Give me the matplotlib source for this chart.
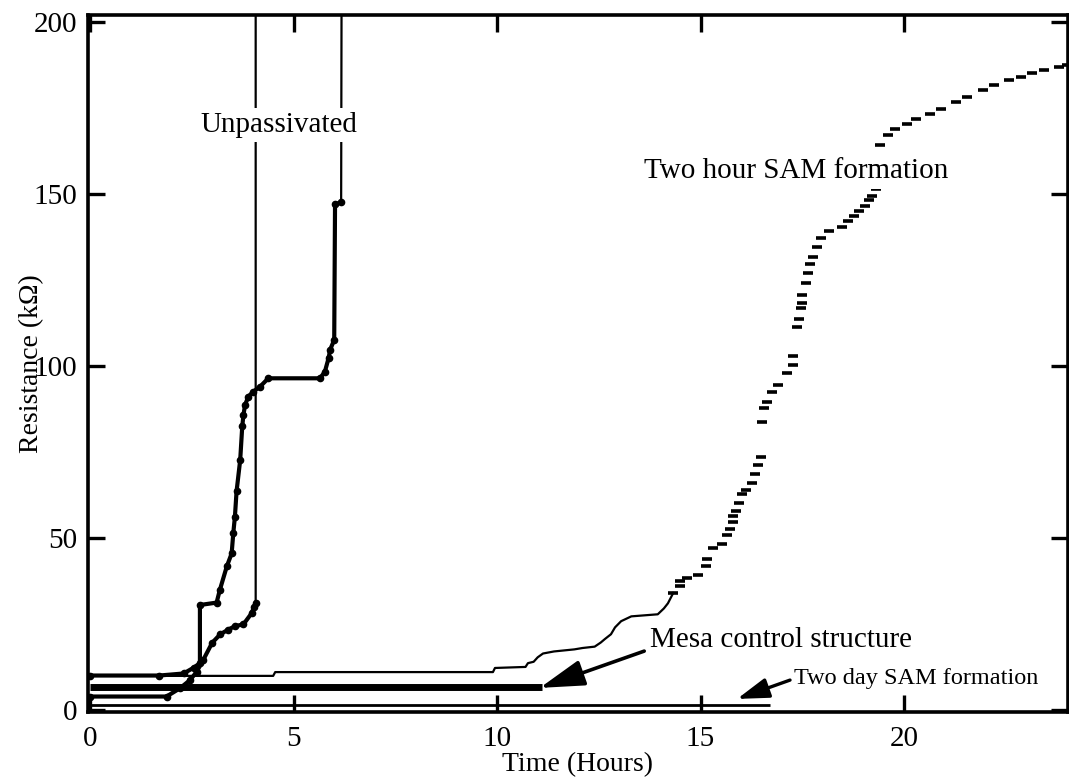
import matplotlib
matplotlib.use('Agg')
import matplotlib.pyplot as plt

# ---------------- data ----------------
x_ticks = [0, 5, 10, 15, 20]
y_ticks = [0, 50, 100, 150, 200]

# Two hour SAM formation: continuous stepped part
two_hour_line_t = [0, 4.5, 4.55, 9.9, 9.95, 10.7, 10.76, 10.9, 11.0, 11.13, 11.4,
                   11.9, 12.1, 12.4, 12.55, 12.65, 12.8, 12.9, 13.05, 13.3, 13.95,
                   14.1, 14.2, 14.33]
two_hour_line_r = [9.9, 9.9, 11.0, 11.0, 12.2, 12.5, 13.6, 14.0, 15.3, 16.4, 17.0,
                   17.6, 18.0, 18.4, 19.6, 20.6, 22.0, 24.0, 25.8, 27.2, 27.8,
                   29.5, 31.0, 34.0]
# Two hour SAM formation: sparse dashed part
two_hour_dash_t = [14.33, 14.5, 14.5, 14.66, 14.95, 15.13, 15.15, 15.3, 15.52, 15.65,
                   15.72, 15.79, 15.81, 15.87, 15.95, 16.01, 16.13, 16.26, 16.34, 16.41,
                   16.48, 16.5, 16.56, 16.63, 16.75, 16.9, 17.12, 17.27, 17.27, 17.36,
                   17.42, 17.47, 17.49, 17.5, 17.59, 17.64, 17.68, 17.76, 17.87, 17.96,
                   18.15, 18.48, 18.62, 18.76, 18.9, 19.04, 19.13, 19.22, 19.32, 19.41,
                   19.6, 19.79, 20.07, 20.3, 20.63, 20.91, 21.28, 21.56, 21.93, 22.21,
                   22.59, 22.87, 23.15, 23.43, 23.8, 24.0]
two_hour_dash_r = [34.0, 36.1, 37.5, 38.4, 39.2, 41.7, 43.9, 47.1, 48.3, 50.9,
                   52.6, 54.7, 56.4, 57.9, 60.2, 62.8, 64.0, 66.1, 68.6, 71.2,
                   73.6, 83.7, 87.8, 89.6, 92.4, 94.5, 98.0, 100.3, 102.9, 111.3,
                   113.7, 116.9, 118.4, 120.7, 124.0, 126.9, 129.6, 131.6, 134.5, 137.2,
                   139.3, 140.5, 142.2, 143.7, 145.1, 146.6, 148.1, 149.5, 151.3, 164.1,
                   167.0, 168.9, 170.4, 171.8, 173.3, 174.8, 176.7, 178.2, 180.1, 181.6,
                   183.0, 184.0, 185.0, 185.9, 186.9, 187.5]

# Unpassivated device 1
unpass1_t = [0, 1.88, 2.21, 2.46, 2.62, 2.78, 3.0, 3.2, 3.39, 3.55, 3.77, 3.97, 4.03, 4.07, 4.07]
unpass1_r = [3.9, 3.9, 6.3, 8.7, 11.1, 14.5, 19.5, 22.0, 23.3, 24.3, 24.9, 28.1, 30.0, 31.0, 205]

# Unpassivated device 2
unpass2_t = [0, 1.7, 2.3, 2.55, 2.7, 2.7, 3.11, 3.19, 3.36, 3.48, 3.52, 3.56, 3.6, 3.69,
             3.74, 3.77, 3.81, 3.89, 4.01, 4.18, 4.38, 5.65, 5.77, 5.86, 5.9, 6.0,
             6.02, 6.17, 6.18]
unpass2_r = [10.0, 10.0, 10.6, 12.3, 13.6, 30.5, 31.2, 34.9, 41.7, 45.5, 51.4, 56.2, 63.5, 72.7,
             82.4, 85.8, 88.7, 91.1, 92.5, 94.0, 96.4, 96.4, 98.3, 102.2, 104.7, 107.6,
             147.0, 147.5, 205]

# Mesa control structure
mesa_t = [0, 11.1]
mesa_r = [6.7, 6.7]

# Two day SAM formation
two_day_t = [0, 16.7]
two_day_r = [1.5, 1.5]

# ---------------- figure ----------------
W, H = 1069, 779
fig = plt.figure(figsize=(W / 100, H / 100), dpi=100)
ax = fig.add_axes([88 / W, (H - 712) / H, (1068 - 88) / W, (712 - 15) / H])

serif = ['Liberation Serif', 'DejaVu Serif']
k = 'black'

ax.plot(two_day_t, two_day_r, color=k, lw=2.0, solid_capstyle='butt')
ax.plot(mesa_t, mesa_r, color=k, lw=5.0, solid_capstyle='butt')
ax.plot(two_hour_line_t, two_hour_line_r, color=k, lw=1.6)
ax.plot(two_hour_dash_t, two_hour_dash_r, ls='none', marker='_', ms=7, mew=2.6, color=k)

for t, r in ((unpass1_t, unpass1_r), (unpass2_t, unpass2_r)):
    ax.plot(t, r, color=k, lw=1.6)
    ax.plot(t[:-1], r[:-1], color=k, lw=3.0, marker='o', ms=4.5)

ax.set_xlim(-0.05, 24.03)
ax.set_ylim(-0.6, 202.0)
ax.set_xticks(x_ticks)
ax.set_yticks(y_ticks)
ax.tick_params(direction='in', length=12, width=2.4, top=True, right=True,
               labelsize=21)
ax.tick_params(axis='x', pad=10)
ax.tick_params(axis='y', pad=8)
for lab in ax.get_xticklabels() + ax.get_yticklabels():
    lab.set_family(serif)
for s in ax.spines.values():
    s.set_linewidth(2.6)

ax.set_xlabel('Time (Hours)', family=serif, fontsize=20, labelpad=0)
ax.set_ylabel('Resistance (k\u03a9)', family=serif, fontsize=20, labelpad=-8)

bbox = dict(boxstyle='square,pad=0.15', fc='white', ec='none')
ax.text(4.64, 170.0, 'Unpassivated', family=serif, fontsize=21,
        ha='center', va='center', bbox=bbox, zorder=5)
ax.text(17.36, 156.6, 'Two hour SAM formation', family=serif, fontsize=21,
        ha='center', va='center', bbox=bbox, zorder=5)

ax.annotate('Mesa control structure', xy=(11.05, 6.4), xytext=(13.75, 20.3),
            family=serif, fontsize=21, ha='left', va='center',
            arrowprops=dict(arrowstyle='-|>,head_length=1.3,head_width=0.38',
                            color=k, lw=2.6, shrinkA=2, shrinkB=0,
                            relpos=(0.0, 0.15)))
ax.annotate('Two day SAM formation', xy=(15.9, 3.2), xytext=(17.3, 9.1),
            family=serif, fontsize=17.5, ha='left', va='center',
            arrowprops=dict(arrowstyle='-|>,head_length=1.1,head_width=0.35',
                            color=k, lw=2.4, shrinkA=1, shrinkB=0,
                            relpos=(0.0, 0.5)))

fig.savefig('out.png', dpi=100)
